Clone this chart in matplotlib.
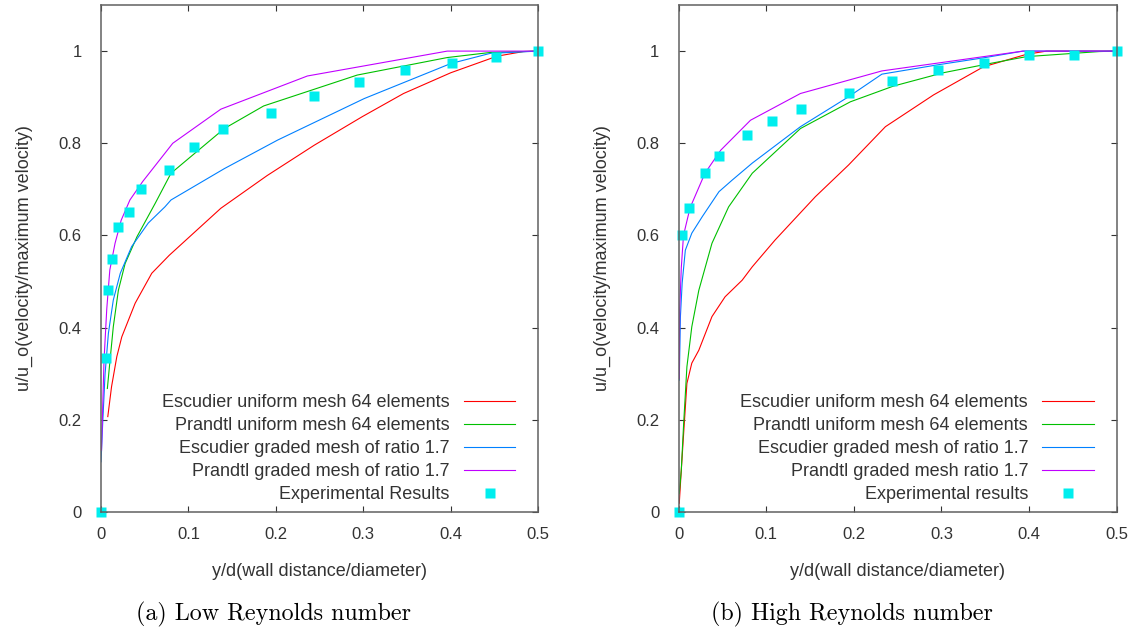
import numpy as np
import matplotlib
matplotlib.use('Agg')
import matplotlib.pyplot as plt
import matplotlib.ticker as ticker

plt.rcParams['font.family'] = ['Liberation Sans', 'DejaVu Sans']
plt.rcParams['font.size'] = 13

# ---- low Reynolds number (a) ----
lo_red_x = [0.0077, 0.012, 0.018, 0.0237, 0.039, 0.058, 0.078, 0.137, 0.19, 0.244, 0.299, 0.346, 0.400, 0.453, 0.483, 0.5]
lo_red_u = [0.207, 0.272, 0.337, 0.380, 0.453, 0.518, 0.557, 0.659, 0.73, 0.796, 0.858, 0.908, 0.953, 0.989, 0.999, 1.0]
lo_green_x = [0.0072, 0.0103, 0.014, 0.0198, 0.0275, 0.041, 0.062, 0.080, 0.141, 0.186, 0.293, 0.396, 0.445, 0.5]
lo_green_u = [0.268, 0.33, 0.402, 0.481, 0.539, 0.597, 0.670, 0.735, 0.832, 0.881, 0.948, 0.986, 0.997, 1.0]
lo_blue_x = [0.0, 0.0015, 0.0046, 0.0084, 0.014, 0.022, 0.035, 0.054, 0.073, 0.080, 0.141, 0.202, 0.301, 0.400, 0.445, 0.5]
lo_blue_u = [0.109, 0.178, 0.30, 0.388, 0.46, 0.518, 0.576, 0.627, 0.662, 0.677, 0.745, 0.807, 0.897, 0.973, 0.995, 1.0]
lo_purple_x = [0.0005, 0.0034, 0.0065, 0.010, 0.016, 0.023, 0.033, 0.0476, 0.082, 0.137, 0.236, 0.396, 0.5]
lo_purple_u = [0.134, 0.33, 0.44, 0.525, 0.583, 0.633, 0.677, 0.717, 0.800, 0.874, 0.946, 1.0, 1.0]
lo_exp_x = [0, 0.0054, 0.0075, 0.0122, 0.0191, 0.032, 0.046, 0.0775, 0.106, 0.140, 0.1945, 0.244, 0.295, 0.348, 0.401, 0.4516, 0.5]
lo_exp_u = [0, 0.335, 0.481, 0.549, 0.618, 0.650, 0.700, 0.741, 0.793, 0.832, 0.866, 0.903, 0.933, 0.959, 0.975, 0.987, 1.0]

# ---- high Reynolds number (b) ----
hi_red_x = [0.0007, 0.003, 0.0057, 0.0094, 0.015, 0.023, 0.038, 0.053, 0.0725, 0.084, 0.110, 0.156, 0.194, 0.236, 0.291, 0.348, 0.397, 0.42, 0.5]
hi_red_u = [0.019, 0.091, 0.171, 0.279, 0.323, 0.351, 0.424, 0.467, 0.503, 0.532, 0.590, 0.684, 0.753, 0.836, 0.905, 0.966, 0.993, 1.0, 1.0]
hi_green_x = [0.0007, 0.003, 0.0057, 0.0094, 0.015, 0.023, 0.038, 0.057, 0.084, 0.139, 0.196, 0.245, 0.302, 0.355, 0.397, 0.48, 0.5]
hi_green_u = [0.04, 0.091, 0.192, 0.315, 0.402, 0.481, 0.583, 0.662, 0.735, 0.832, 0.890, 0.924, 0.953, 0.973, 0.988, 0.999, 1.0]
hi_blue_x = [0.0007, 0.002, 0.004, 0.0076, 0.015, 0.027, 0.046, 0.061, 0.084, 0.139, 0.194, 0.232, 0.295, 0.350, 0.393, 0.5]
hi_blue_u = [0.286, 0.424, 0.497, 0.568, 0.605, 0.641, 0.695, 0.72, 0.757, 0.836, 0.901, 0.950, 0.970, 0.986, 1.0, 1.0]
hi_purple_x = [0.0007, 0.0012, 0.003, 0.0055, 0.013, 0.030, 0.048, 0.082, 0.139, 0.232, 0.393, 0.5]
hi_purple_u = [0.29, 0.44, 0.53, 0.60, 0.66, 0.735, 0.785, 0.850, 0.908, 0.957, 1.0, 1.0]
hi_exp_x = [0, 0.0041, 0.0121, 0.030, 0.0464, 0.078, 0.1066, 0.140, 0.1945, 0.244, 0.296, 0.348, 0.400, 0.4515, 0.5]
hi_exp_u = [0, 0.601, 0.659, 0.735, 0.772, 0.819, 0.848, 0.874, 0.909, 0.935, 0.959, 0.975, 0.991, 0.991, 1.0]

lo_labels = ['Escudier uniform mesh 64 elements', 'Prandtl uniform mesh 64 elements',
             'Escudier graded mesh of ratio 1.7', 'Prandtl graded mesh of ratio 1.7',
             'Experimental Results']
hi_labels = ['Escudier uniform mesh 64 elements', 'Prandtl uniform mesh 64 elements',
             'Escudier graded mesh of ratio 1.7', 'Prandtl graded mesh ratio 1.7',
             'Experimental results']
colors = ['#ff0000', '#00c000', '#0080ff', '#c000ff']
exp_color = '#00eeee'
txt_color = '#333333'


def style_ax(ax):
    ax.set_xlim(0, 0.5)
    ax.set_ylim(0, 1.1)
    ax.set_xticks(np.arange(0, 0.51, 0.1))
    ax.set_yticks(np.arange(0, 1.01, 0.2))
    fmt = ticker.FuncFormatter(lambda v, p: '%g' % round(v, 2))
    ax.xaxis.set_major_formatter(fmt)
    ax.yaxis.set_major_formatter(fmt)
    for s in ax.spines.values():
        s.set_color('#606060')
        s.set_linewidth(1.1)
    ax.tick_params(axis='both', direction='in', length=4.5, width=0.8, color=txt_color,
                   labelcolor=txt_color, top=True, right=True, labelsize=12)
    ax.tick_params(axis='y', pad=14)
    ax.tick_params(axis='x', pad=11)
    ax.set_xlabel('y/d(wall distance/diameter)', color=txt_color, labelpad=15)
    ax.set_ylabel('u/u_o(velocity/maximum velocity)', color=txt_color, labelpad=18)


def draw(ax, curves, ex, eu, labels):
    for (cx, cu), c, lab in zip(curves, colors, labels):
        ax.plot(cx, cu, color=c, lw=0.8, label=lab)
    ax.plot(ex, eu, 's', color=exp_color, ms=6.5, mec='none', label=labels[-1], clip_on=False)
    leg = ax.legend(loc='lower right', frameon=False, markerfirst=False, handlelength=2.85,
                    handletextpad=0.8, labelspacing=0.34, borderpad=0, borderaxespad=0,
                    bbox_to_anchor=(0.948, 0.017), fontsize=13)
    for t in leg.get_texts():
        t.set_color(txt_color)
    style_ax(ax)


fig = plt.figure(figsize=(11.33, 6.34), dpi=100)
ax1 = fig.add_axes([0.0892, 0.1924, 0.3858, 0.7997])
ax2 = fig.add_axes([0.5990, 0.1924, 0.3866, 0.7997])

draw(ax1, [(lo_red_x, lo_red_u), (lo_green_x, lo_green_u), (lo_blue_x, lo_blue_u),
           (lo_purple_x, lo_purple_u)], lo_exp_x, lo_exp_u, lo_labels)
draw(ax2, [(hi_red_x, hi_red_u), (hi_green_x, hi_green_u), (hi_blue_x, hi_blue_u),
           (hi_purple_x, hi_purple_u)], hi_exp_x, hi_exp_u, hi_labels)

fig.text(273 / 1133, 1 - 614 / 634, '(a) Low Reynolds number', family='cmr10',
         fontsize=17.3, ha='center', va='center')
fig.text(852 / 1133, 1 - 614 / 634, '(b) High Reynolds number', family='cmr10',
         fontsize=17.3, ha='center', va='center')

fig.savefig('out.png', dpi=100)
